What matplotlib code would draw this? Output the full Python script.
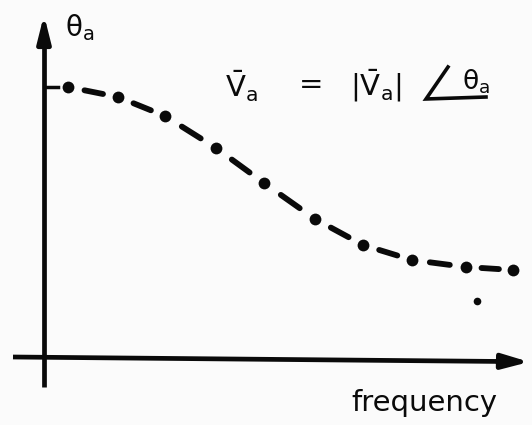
import numpy as np
import matplotlib.pyplot as plt

# sketch of phase angle vs frequency (arbitrary units)
freq = [0.48, 1.48, 2.42, 3.44, 4.4, 5.42, 6.38, 7.36, 8.44, 9.38]
theta = [5.4, 5.2, 4.82, 4.18, 3.48, 2.76, 2.24, 1.94, 1.8, 1.74]
stray_freq = [8.66]
stray_theta = [1.12]

fig = plt.figure(figsize=(5.32, 4.25), dpi=100)
fig.patch.set_facecolor('#fbfbfb')
ax = fig.add_axes([0, 0, 1, 1])
ax.set_facecolor('#fbfbfb')
ax.set_xlim(-0.88, 9.76)
ax.set_ylim(-1.36, 7.14)
ax.axis('off')

ink = '#0a0a0a'

# axes drawn by hand
ax.plot([0, 0], [-0.6, 6.4], color=ink, lw=3.4, solid_capstyle='butt')
ax.annotate('', xy=(0, 6.9), xytext=(0, 6.2),
            arrowprops=dict(arrowstyle='-|>,head_length=1.6,head_width=0.4',
                            color=ink, lw=3.4))
ax.plot([-0.62, 9.2], [0.0, -0.09], color=ink, lw=3.4, solid_capstyle='butt')
ax.annotate('', xy=(9.76, -0.1), xytext=(9.0, -0.085),
            arrowprops=dict(arrowstyle='-|>,head_length=1.6,head_width=0.45',
                            color=ink, lw=3.4))

# small tick on the theta axis at the starting value
ax.plot([0.04, 0.28], [theta[0], theta[0]], color=ink, lw=2.5)

# dash-dot curve: a dot at every point, a short dash between neighbours
fx = np.array(freq)
ty = np.array(theta)
for i in range(len(fx) - 1):
    a = 0.33
    b = 0.70
    ax.plot([fx[i] + a * (fx[i + 1] - fx[i]), fx[i] + b * (fx[i + 1] - fx[i])],
            [ty[i] + a * (ty[i + 1] - ty[i]), ty[i] + b * (ty[i + 1] - ty[i])],
            color=ink, lw=4.2, solid_capstyle='round')
ax.plot(fx, ty, 'o', color=ink, ms=8.5, mec='none')
ax.plot(stray_freq, stray_theta, 'o', color=ink, ms=5.5, mec='none')

# labels
ax.text(0.42, 6.58, r'$\mathrm{\theta_a}$', fontsize=20, color=ink,
        ha='left', va='center')

# phasor expression, written out piece by piece
eq_y = 5.42
ax.text(3.62, eq_y, r'$\mathrm{\bar{V}_a}$', fontsize=21, color=ink, ha='left', va='center')
ax.text(5.1, eq_y + 0.02, '=', fontsize=21, color=ink, ha='left', va='center')
ax.text(6.12, eq_y, r'$\mathrm{|\bar{V}_a|}$', fontsize=21, color=ink, ha='left', va='center')
# hand drawn angle sign with theta_a sitting on its base
ax.plot([8.08, 7.64, 8.84], [5.8, 5.16, 5.2], color=ink, lw=2.6,
        solid_joinstyle='miter')
ax.text(8.36, 5.5, r'$\mathrm{\theta_a}$', fontsize=19, color=ink, ha='left', va='center')

ax.text(6.14, -0.92, 'frequency', fontsize=21, color=ink, ha='left', va='center')

fig.savefig('out.png', dpi=100, facecolor=fig.get_facecolor())
